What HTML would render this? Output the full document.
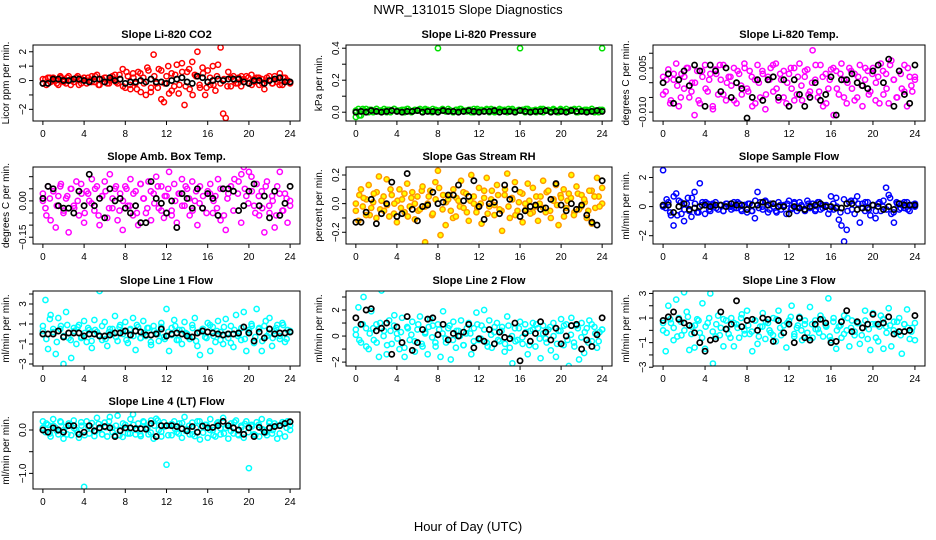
<!DOCTYPE html>
<html><head><meta charset="utf-8"><title>NWR_131015 Slope Diagnostics</title>
<style>
html,body{margin:0;padding:0;background:#fff;}
svg{display:block;font-family:"Liberation Sans",sans-serif;}
</style></head>
<body>
<svg id="chart" width="936" height="540" viewBox="0 0 936 540" xmlns="http://www.w3.org/2000/svg">
<rect x="0" y="0" width="936" height="540" fill="#fff"/>
<text x="468" y="14" font-size="13" text-anchor="middle">NWR_131015  Slope Diagnostics</text>
<text x="468" y="531" font-size="13" text-anchor="middle">Hour of Day (UTC)</text>
</svg>
<script>
const xTicks = [0,4,8,12,16,20,24];

const co2Color = [-0.2,0.1,0.2,-0.1,0.2,0.0,-0.3,0.2,0.1,-0.2,0.3,0.0,-0.1,0.2,-0.3,0.1,0.2,-0.2,0.0,0.3,-0.1,0.4,-0.3,0.1,0.2,-0.2,0.0,0.3,0.4,-0.2,0.1,0.8,
-0.5,0.3,-0.6,0.5,-0.2,0.6,-0.8,0.2,-1.0,0.7,-0.5,1.8,-0.2,0.8,-1.3,-1.5,0.3,-0.9,0.5,-0.4,1.1,-0.3,1.2,-1.7,0.6,-0.6,1.3,0.4,2.0,-0.5,0.9,-1.0,0.7,-0.3,1.0,-0.7,1.1,2.3,-2.3,-2.6,0.6,-0.4,
0.3,-0.2,0.2,-0.4,0.1,0.3,-0.2,0.4,-0.1,0.2,-0.3,0.1,-0.6,0.2,0.0,-0.2,0.3,-0.1,0.5,-0.3,0.2,0.0,-0.2];
const co2Color2 = [0.1,-0.3,0.2,0.0,-0.2,0.3,-0.1,0.2,-0.3,0.1,0.3,-0.2,0.0,0.2,-0.1,0.3,-0.3,0.1,0.2,-0.2,0.1,-0.1,0.4,-0.4,0.6,-0.3,0.2,-0.6,0.5,-0.2,0.9,-0.8,0.3,-0.5,0.7,-0.2,1.0,-0.7,0.4,-0.9,0.6,-0.4,0.8,-1.0,0.3,-0.3,0.5,-0.5,0.2,-0.3,0.3,-0.2,0.1,-0.4,0.2,0.0,-0.2,0.3,-0.1,0.2,-0.3,0.1,0.2,-0.2,0.0,0.3,-0.2,0.1,-0.3,0.2,0.0,-0.1];
const co2Black = [-0.2,-0.2,0.1,0.1,0.0,0.0,0.1,0.1,0.0,-0.1,0.1,0.1,-0.1,0.2,0.0,0.1,-0.2,-0.1,-0.1,0.0,-0.1,0.1,-0.1,-0.1,-0.2,0.0,0.1,0.2,-0.1,-0.2,0.3,0.2,-0.1,0.0,0.1,0.0,0.1,0.1,0.1,-0.1,-0.2,0.0,0.0,-0.2,0.0,0.1,0.2,-0.1,-0.1];

const presColor = [-0.03,0.02,-0.02,0.01,0.02,0.0,0.015,0.01,0.02,0.005,0.01,0.02,0.0,0.015,0.01,0.02,0.005,0.01,0.015,0.0,0.02,0.01,0.005,0.015,0.01,0.02,0.0,0.01,0.015,0.005,0.02,0.01,
0.4,0.01,0.015,0.005,0.02,0.01,0.0,0.015,0.01,0.02,0.005,0.01,0.015,0.0,0.02,0.01,0.005,0.015,0.01,0.02,0.0,0.01,0.015,0.005,0.02,0.01,0.015,0.0,0.01,0.02,0.005,0.01,
0.4,0.015,0.0,0.02,0.01,0.005,0.015,0.01,0.02,0.0,0.01,0.015,0.005,0.02,0.01,0.0,0.015,0.01,0.02,0.005,0.01,0.015,0.0,0.02,0.01,0.005,0.015,0.01,0.02,0.0,0.01,0.015,0.4];
const presColor2 = [0.01,-0.02,0.02,0.005,0.015,0.0,0.02,0.01,0.005,0.015,0.0,0.02,0.01,0.005,0.015,0.02,0.0,0.01,0.015,0.005,0.02,0.01,0.0,0.015,0.01,0.02,0.005,0.01,0.0,0.015,0.02,0.01,0.005,0.015,0.0,0.02,0.01,0.005,0.015,0.02,0.0,0.01,0.015,0.005,0.02,0.01,0.0,0.015,0.01,0.02,0.005,0.01,0.0,0.015,0.02,0.01,0.005,0.015,0.0,0.02,0.01,0.005,0.015,0.02,0.0,0.01,0.015,0.005,0.02,0.01,0.0,0.015];
const presBlack = [0.0,0.005,0.0,0.01,0.005,0.0,0.005,0.01,0.005,0.0,0.005,0.005,0.01,0.0,0.005,0.005,0.0,0.01,0.005,0.005,0.0,0.005,0.01,0.005,0.0,0.005,0.005,0.01,0.0,0.005,0.005,0.0,0.01,0.005,0.0,0.005,0.005,0.01,0.0,0.005,0.005,0.0,0.01,0.005,0.005,0.0,0.005,0.01,0.005];

const tempColor = [0.002,-0.003,0.0045,-0.006,0.001,0.0065,-0.008,0.003,-0.002,0.005,-0.005,0.0,-0.011,0.004,-0.007,0.002,0.006,-0.003,0.003,-0.009,0.0045,-0.004,0.001,0.006,-0.006,0.002,-0.001,0.005,-0.007,0.003,-0.004,0.0065,
-0.002,0.004,-0.008,0.001,0.006,-0.005,0.003,-0.009,0.002,0.005,-0.003,0.0065,-0.006,0.001,0.004,-0.007,0.003,-0.002,0.005,-0.004,0.0065,-0.006,0.002,0.0045,-0.003,0.011,0.001,-0.005,0.006,-0.008,0.003,-0.002,
0.0045,-0.011,0.004,-0.004,0.0065,0.001,-0.007,0.005,-0.002,0.003,-0.005,0.006,-0.008,0.001,0.004,-0.003,0.005,-0.006,0.002,0.0065,-0.004,0.003,-0.007,0.0075,0.001,-0.005,0.004,-0.002,0.006,-0.008,0.002,-0.003,0.001];
const tempColor2 = [-0.004,0.001,-0.007,0.003,-0.001,-0.005,0.002,0.005,-0.003,0.0,-0.006,0.004,-0.002,0.001,-0.008,0.003,0.006,-0.004,0.0,0.002,-0.006,0.004,-0.001,0.005,-0.003,0.002,-0.007,0.0,0.004,-0.004,0.001,0.006,-0.002,0.003,-0.005,0.0,0.005,-0.006,0.002,-0.001,0.004,-0.004,0.0,0.006,-0.003,0.002,-0.007,0.001,0.005,-0.002,0.003,-0.005,0.0,0.004,-0.006,0.002,-0.001,0.005,-0.004,0.003,0.0,-0.007,0.004,-0.002,0.006,0.001,-0.005,0.003,-0.003,0.005,-0.001,0.002];
const tempBlack = [0.0,0.003,-0.007,0.001,0.004,-0.001,0.006,0.004,-0.008,0.006,0.004,-0.003,0.005,-0.005,0.0,-0.002,-0.012,-0.005,0.001,-0.006,0.001,0.002,-0.005,0.001,-0.008,0.001,-0.004,-0.008,-0.005,0.0,-0.006,-0.004,0.002,-0.011,0.001,0.001,0.003,0.0,-0.001,-0.002,0.004,0.006,0.0,0.008,-0.008,0.004,-0.004,-0.007,0.006];

const ambColor = [0.0,-0.03,0.06,-0.08,0.04,-0.11,0.02,0.07,-0.05,0.01,-0.13,0.05,-0.02,0.08,-0.06,0.03,-0.09,0.04,0.0,0.09,-0.04,0.06,-0.1,0.02,0.08,-0.07,0.11,-0.03,0.05,-0.08,0.03,-0.12,
0.06,-0.02,0.09,-0.06,0.04,-0.1,0.07,0.01,-0.05,0.08,-0.08,0.03,0.1,-0.03,0.06,-0.07,0.02,0.12,-0.04,0.07,-0.09,0.03,0.09,-0.02,0.05,-0.06,0.08,0.0,-0.1,0.06,-0.03,-0.19,
0.04,0.07,-0.05,0.02,0.09,-0.08,0.05,-0.12,0.03,0.06,-0.04,-0.21,0.08,-0.09,0.14,0.02,0.12,0.1,-0.02,0.07,-0.06,0.04,-0.13,0.08,-0.05,0.02,-0.11,0.06,0.12,-0.04,0.03,-0.09,0.0];
const ambColor2 = [0.03,-0.06,0.01,0.04,-0.02,0.06,-0.04,0.02,0.05,-0.03,0.0,0.07,-0.05,0.03,-0.01,0.05,-0.06,0.02,0.04,-0.03,0.01,0.06,-0.04,0.0,0.05,-0.02,0.03,-0.05,0.07,0.01,-0.03,0.04,-0.01,0.06,-0.04,0.02,0.05,-0.06,0.0,0.03,-0.02,0.06,0.01,-0.04,0.04,-0.01,0.02,-0.05,0.03,0.0,-0.03,0.05,-0.06,0.01,0.06,0.09,0.03,0.11,0.05,-0.01,0.04,-0.05,0.02,-0.03,0.06,-0.02,0.0,-0.06,0.03,-0.04,0.01,-0.02];
const ambBlack = [0.01,0.06,0.05,-0.02,-0.03,-0.03,-0.05,0.04,-0.02,0.11,-0.02,0.01,-0.07,0.05,0.0,0.01,-0.03,-0.05,-0.02,-0.09,-0.09,0.08,0.01,-0.01,-0.05,0.0,-0.11,0.03,0.01,-0.03,0.05,-0.03,0.03,0.01,-0.06,0.05,0.05,0.04,-0.04,-0.02,0.04,0.07,-0.02,0.02,-0.07,0.04,-0.06,-0.01,0.06];

const rhColor = [0.0,-0.12,0.1,0.04,-0.08,0.13,-0.03,0.07,-0.1,0.19,0.02,-0.05,0.17,-0.09,0.06,0.0,-0.13,0.1,0.03,-0.06,0.14,-0.02,0.08,-0.11,0.05,-0.04,0.12,-0.27,0.0,0.09,-0.07,0.15,
0.23,-0.22,0.06,-0.15,0.03,-0.05,0.1,-0.09,0.02,0.16,-0.03,0.07,-0.12,0.2,0.0,-0.06,0.11,-0.14,0.04,0.18,-0.02,0.09,-0.08,0.13,-0.04,-0.19,0.06,0.21,-0.1,0.03,0.15,-0.05,
0.08,-0.13,0.0,0.14,-0.07,0.11,-0.02,-0.12,0.05,0.16,-0.06,0.09,-0.1,0.02,0.13,-0.15,0.04,0.1,-0.03,0.07,0.2,-0.08,0.12,-0.04,0.06,0.03,-0.1,0.09,-0.14,0.05,0.18,-0.02,0.11];
const rhColor2 = [-0.05,0.06,-0.02,0.03,-0.08,0.01,0.08,-0.04,0.05,-0.01,0.1,-0.07,0.02,-0.03,0.07,-0.09,0.04,0.0,-0.05,0.09,-0.02,0.05,-0.08,0.03,0.11,-0.04,0.01,0.06,-0.1,0.04,-0.02,0.08,-0.06,0.02,0.05,-0.03,0.0,0.09,-0.07,0.03,-0.01,0.06,-0.05,0.1,-0.02,0.04,-0.08,0.01,0.07,-0.04,0.02,-0.06,0.05,0.0,-0.03,0.08,-0.05,0.03,-0.01,0.06,-0.09,0.02,0.04,-0.06,0.07,-0.02,0.01,-0.05,0.09,-0.03,0.05,0.0];
const rhBlack = [-0.13,-0.13,-0.06,0.03,-0.14,-0.07,0.0,0.15,-0.09,-0.07,0.21,-0.04,-0.12,-0.02,-0.01,0.08,0.0,0.01,0.06,0.06,0.13,0.02,0.05,0.16,-0.02,-0.11,0.0,0.01,-0.07,0.13,0.03,0.1,-0.09,-0.05,-0.02,-0.01,-0.04,-0.03,0.03,0.14,-0.01,-0.05,0.0,-0.04,-0.01,-0.08,-0.13,-0.15,0.16];

const sampleColor = [2.5,-0.1,0.3,-0.6,-1.3,0.9,0.4,-0.5,-1.0,0.2,-0.3,0.6,1.0,-0.4,1.6,0.3,-0.5,0.2,-0.3,0.1,0.3,-0.2,0.1,-0.3,0.2,0.0,-0.2,0.3,-0.1,0.2,-0.3,0.1,
-0.4,0.2,-0.3,-0.8,1.0,0.3,-0.2,0.4,-0.4,0.2,0.0,-0.3,0.3,-0.2,0.1,-0.5,0.4,-0.1,0.2,-0.3,0.3,0.0,-0.2,0.4,-0.1,0.2,-0.3,0.3,-0.2,0.1,0.0,-0.5,
0.7,-0.2,0.6,-0.9,-1.3,-2.4,-1.6,0.3,-0.2,0.4,0.7,-1.1,0.2,-0.3,0.3,-0.6,0.1,-0.8,0.2,-0.3,0.4,1.3,0.8,-0.5,-1.1,0.3,-0.2,0.2,-0.1,0.3,-0.3,0.1,0.2];
const sampleColor2 = [0.0,0.5,-0.4,0.7,-0.6,0.3,-0.2,0.6,-0.7,0.2,-0.4,0.1,0.3,-0.2,0.2,-0.1,0.1,-0.3,0.2,0.0,-0.1,0.3,-0.2,0.1,0.2,-0.3,0.4,-0.1,0.0,0.3,-0.2,0.2,-0.4,0.1,0.0,0.2,-0.2,0.3,-0.1,0.1,-0.3,0.2,0.0,-0.2,0.3,-0.1,0.1,-0.2,0.2,0.0,-0.4,0.5,-0.3,0.4,-0.5,0.2,-0.1,0.3,-0.2,0.1,-0.3,0.3,0.0,-0.2,0.6,-0.4,0.2,-0.1,0.3,-0.2,0.1,0.0];
const sampleBlack = [0.1,0.1,-0.4,0.0,0.2,-0.2,-0.1,0.0,0.1,0.0,0.1,0.1,0.0,0.2,0.1,0.1,-0.2,0.1,0.1,0.3,0.1,0.2,0.0,0.0,-0.5,0.0,-0.1,-0.2,0.0,0.1,0.2,0.0,0.0,-0.1,-0.1,0.2,0.2,-0.2,-0.1,-0.1,0.1,0.0,-0.2,0.0,-0.2,0.2,0.1,0.1,0.1];

const line1Color = [0.3,3.4,-1.5,1.9,0.5,-2.0,1.6,0.8,-3.0,2.2,-0.4,-2.4,0.6,-1.0,0.9,-0.3,1.3,-0.8,0.4,-1.4,1.4,0.2,4.3,-0.6,1.2,-1.2,0.5,0.0,1.8,-0.7,0.9,0.3,
1.2,-0.9,0.5,1.6,-1.6,0.7,-0.4,1.3,-0.2,0.6,-1.1,0.8,0.1,-0.7,1.1,-0.3,2.5,-1.7,0.6,1.4,-0.6,0.4,-1.0,1.2,0.0,-0.5,0.9,1.6,-1.2,-2.1,0.5,-0.3,
1.1,-1.7,0.7,-0.8,1.3,0.2,-1.0,1.5,-0.4,0.8,-1.3,1.9,0.0,-0.6,2.2,-1.7,0.4,1.0,-0.9,2.5,0.6,-1.7,0.8,-0.2,1.6,-1.2,0.3,0.9,-0.5,1.1,-0.8,0.4,0.2];
const line1Color2 = [0.8,-0.5,1.5,0.2,-0.8,0.5,-0.2,0.9,-0.6,0.3,0.7,-0.4,0.1,0.6,-0.7,0.4,-0.1,0.8,-0.5,0.2,0.5,-0.3,0.7,0.0,-0.6,0.4,-0.2,0.9,-0.4,0.1,0.6,-0.8,0.3,0.0,0.7,-0.5,0.2,-0.1,0.8,-0.6,0.4,0.1,-0.3,0.6,-0.7,0.2,0.5,-0.4,0.9,-0.2,0.3,-0.6,0.7,0.0,-0.9,0.4,-0.2,0.6,-0.5,0.2,0.8,-0.3,0.5,-0.7,1.3,0.1,-0.4,0.6,-0.2,0.9,-0.5,0.3];
const line1Black = [0.0,0.0,0.0,0.3,-0.3,0.1,0.1,0.1,-0.2,0.0,0.0,-0.2,-0.2,-0.1,0.1,0.1,0.3,-0.1,0.3,0.2,-0.1,-0.1,0.0,0.5,-0.2,0.0,0.1,0.0,-0.2,-0.3,0.1,0.3,0.2,0.1,0.0,-0.1,0.0,0.0,0.1,0.7,0.1,-0.7,0.2,-0.4,0.5,0.0,0.1,0.1,0.2];

const line2Color = [0.1,2.2,-0.5,3.0,0.6,-1.0,1.9,-0.3,0.9,-1.6,3.5,0.4,-1.4,1.2,-0.6,1.6,0.2,-1.0,1.4,-1.6,0.7,-0.3,1.1,-1.2,0.5,1.5,-0.8,0.2,-1.4,1.3,0.8,-0.5,
0.9,-1.6,1.9,-0.2,0.6,-1.8,1.1,-0.9,0.4,1.2,-0.7,0.2,1.0,-1.4,0.6,1.8,-0.3,0.8,2.0,-0.5,1.2,-0.9,0.3,1.0,-0.4,0.7,-1.2,1.5,-0.9,-2.1,0.6,-0.3,
1.1,-0.6,0.9,-1.4,0.4,1.0,-0.8,0.6,-1.7,0.8,-0.2,0.5,-1.1,1.0,-1.6,0.4,1.3,-0.7,0.9,-2.3,1.4,-0.5,0.8,-1.8,1.0,-1.3,0.6,1.2,-0.4,0.7,-0.9,0.3,0.5];
const line2Color2 = [0.5,-0.3,0.9,-0.8,0.2,0.6,-0.5,1.0,0.0,-0.7,0.4,0.8,-0.2,0.3,-0.9,0.6,0.1,-0.4,0.9,-0.6,0.3,0.7,-0.1,-0.8,0.5,0.2,-0.5,0.8,-0.3,0.4,0.0,-0.7,0.6,0.2,-0.4,0.9,-0.2,0.5,-0.8,0.1,0.7,-0.3,0.4,-0.6,0.8,0.0,-0.4,0.6,-0.1,0.3,-0.7,0.5,0.9,-0.2,0.2,-0.5,0.7,0.0,-0.6,0.4,0.8,-0.3,0.1,-0.8,0.6,-0.1,0.3,-0.5,0.9,0.2,-0.4,0.5];
const line2Black = [1.4,0.9,2.0,2.1,0.4,0.6,1.0,-1.4,0.7,-0.5,1.5,-1.1,-0.5,0.5,1.3,1.4,0.1,0.9,-0.3,0.2,0.0,0.3,0.9,-0.9,-0.2,-0.4,0.5,-0.6,0.3,-0.1,-0.2,1.0,-1.9,0.2,-0.4,0.2,1.1,0.3,-0.3,0.6,-0.6,0.0,0.8,0.9,-1.0,-0.3,-0.8,0.1,1.4];

const line3Color = [0.0,-1.7,2.0,0.6,-0.8,2.5,1.0,-0.4,3.1,1.5,-1.6,0.3,-1.4,0.9,-0.2,2.2,-1.5,0.6,3.0,-2.7,-0.5,1.2,0.2,-1.3,0.8,-0.3,1.0,-1.3,0.5,-0.6,1.3,0.0,
1.6,-0.3,-1.7,0.8,-1.1,0.3,1.4,-0.7,0.6,-0.2,1.0,-0.9,1.6,-0.4,0.4,-1.4,0.8,2.0,-0.5,0.2,1.1,-0.8,0.5,-0.2,1.9,-0.6,0.8,0.1,1.2,-0.5,0.4,2.6,
-0.8,1.0,-1.5,0.3,-0.6,1.2,0.0,-1.3,0.8,-0.4,0.6,-1.1,0.2,1.6,-0.7,-1.6,1.4,0.5,-0.9,1.2,-1.5,0.3,1.8,-1.3,0.7,-0.2,1.0,-1.9,0.5,1.7,-0.7,0.2,-0.8];
const line3Color2 = [0.6,-0.2,0.9,0.2,-0.5,0.7,0.0,1.1,-0.3,0.4,0.8,-0.6,0.3,1.0,-0.1,0.5,-0.4,0.9,0.1,-0.6,0.6,0.2,1.0,-0.3,0.4,-0.1,0.8,-0.5,0.3,0.7,0.0,-0.4,0.9,0.2,-0.2,0.6,1.1,-0.3,0.4,0.0,0.8,-0.6,0.5,0.1,-0.2,0.9,0.3,-0.5,0.7,0.0,0.4,-0.3,1.0,0.2,-0.1,0.6,-0.4,0.8,0.1,0.5,-0.6,0.3,0.9,-0.2,0.4,0.0,0.7,-0.4,0.5,0.2,-0.1,0.6];
const line3Black = [0.8,1.1,1.5,0.9,0.6,0.4,-0.2,-1.0,-1.7,-0.8,-0.7,1.5,0.1,0.5,2.4,0.3,0.8,0.9,0.0,1.0,0.9,-0.9,0.8,-0.2,0.5,-1.0,1.0,-0.6,-0.8,0.5,0.9,0.6,-1.0,-0.9,0.7,1.6,-0.1,0.7,0.2,0.5,1.3,0.5,0.6,1.1,-0.3,-0.1,-0.1,0.0,1.2];

const line4Color = [0.2,-0.05,0.12,-0.15,0.25,0.05,-0.1,0.18,-0.2,0.08,0.15,-0.12,0.22,0.0,-0.18,0.1,-1.31,0.2,-0.08,0.16,-0.14,0.28,0.02,-0.1,0.17,-0.15,0.3,0.05,-0.12,0.33,0.0,-0.16,
0.12,-0.08,0.25,0.36,-0.1,0.15,-0.14,0.2,0.05,-0.1,0.22,-0.2,0.26,0.0,-0.15,0.18,-0.8,0.1,-0.12,0.2,-0.05,0.15,-0.18,0.3,0.02,-0.1,0.17,-0.14,0.2,-0.22,0.08,0.12,
-0.18,0.25,0.0,-0.15,0.18,-0.1,0.28,0.05,-0.2,0.15,-0.08,0.22,-0.12,0.1,-0.18,0.2,-0.88,0.12,-0.1,0.18,-0.15,0.25,0.0,-0.12,0.2,-0.08,0.15,-0.2,0.1,0.18,-0.15,0.2,0.0];
const line4Color2 = [0.05,0.15,-0.08,0.1,-0.02,0.2,0.0,-0.1,0.12,0.04,-0.06,0.18,-0.12,0.08,0.02,-0.04,0.14,-0.1,0.06,0.2,-0.05,0.1,-0.12,0.15,0.03,-0.08,0.12,0.0,-0.1,0.18,0.05,-0.06,0.1,0.22,-0.04,0.08,-0.12,0.14,0.02,-0.08,0.16,-0.02,0.1,-0.1,0.05,0.2,-0.06,0.12,0.0,-0.12,0.15,0.04,-0.08,0.1,-0.02,0.18,-0.1,0.06,0.14,-0.05,0.08,-0.12,0.12,0.02,-0.06,0.16,0.0,0.1,-0.08,0.14,0.05,0.1];
const line4Black = [0.0,-0.05,0.05,0.0,-0.05,0.1,0.1,-0.1,-0.05,0.1,-0.02,0.05,0.08,0.05,-0.15,-0.02,0.05,0.05,0.03,0.03,0.02,0.15,-0.15,0.1,0.1,0.1,0.08,0.03,-0.02,0.08,-0.05,0.09,0.05,0.06,0.1,0.2,0.1,0.05,0.0,-0.1,0.05,-0.15,0.06,-0.05,0.05,0.08,0.1,0.15,0.19];

const panelTitles = ["Slope Li-820 CO2","Slope Li-820 Pressure","Slope Li-820 Temp.","Slope Amb. Box Temp.","Slope Gas Stream RH","Slope Sample Flow","Slope Line 1 Flow","Slope Line 2 Flow","Slope Line 3 Flow","Slope Line 4 (LT) Flow"];
const panelYLabels = ["Licor ppm per min.","kPa per min.","degrees C per min.","degrees C per min.","percent per min.","ml/min per min.","ml/min per min.","ml/min per min.","ml/min per min.","ml/min per min."];
const yTicks = [[-2,-1,0,1,2],[0,0.1,0.2,0.3,0.4],[-0.010,-0.005,0,0.005,0.010],[-0.15,-0.10,-0.05,0,0.05,0.10],[-0.2,-0.1,0,0.1,0.2],[-2,-1,0,1,2],[-3,-2,-1,0,1,2,3,4],[-2,-1,0,1,2,3],[-3,-2,-1,0,1,2,3],[-1,-0.5,0]];
const yTickLabels = [["\u22122","","0","1","2"],["0.0","","0.2","","0.4"],["\u22120.010","","","0.005",""],["\u22120.15","","","0.00","",""],["\u22120.2","","0.0","","0.2"],["\u22122","","0","","2"],["\u22123","","\u22121","","1","","3",""],["\u22122","","0","","2",""],["\u22123","","\u22121","","1","","3"],["\u22121.0","","0.0"]];
const yDomains = [[-2.81,2.47],[-0.055,0.42],[-0.013,0.0128],[-0.178,0.14],[-0.282,0.256],[-2.57,2.72],[-3.2,4.3],[-2.3,3.46],[-2.9,3.2],[-1.36,0.415]];
const colorSeries = [co2Color,presColor,tempColor,ambColor,rhColor,sampleColor,line1Color,line2Color,line3Color,line4Color];
const colorSeries2 = [co2Color2,presColor2,tempColor2,ambColor2,rhColor2,sampleColor2,line1Color2,line2Color2,line3Color2,line4Color2];
const blackSeries = [co2Black,presBlack,tempBlack,ambBlack,rhBlack,sampleBlack,line1Black,line2Black,line3Black,line4Black];
const seriesColors = ["#ff0000","#00e000","#ff00ff","#ff00ff","#ff9a00","#0000ff","#00ffff","#00ffff","#00ffff","#00ffff"];

const NS = "http://www.w3.org/2000/svg";
const svg = document.getElementById("chart");
const colLeft = [33,346,653], colWidth = [267,266,272];
const rowTop = [45,167,291,412], rowHeight = [76,77,75,77];

function mk(tag, attrs, parent){
  const e = document.createElementNS(NS, tag);
  for (const k in attrs) e.setAttribute(k, attrs[k]);
  parent.appendChild(e);
  return e;
}

for (let p = 0; p < 10; p++){
  const L = colLeft[p % 3], W = colWidth[p % 3];
  const T = rowTop[Math.floor(p / 3)], H = rowHeight[Math.floor(p / 3)];
  const [y0, y1] = yDomains[p];
  const xs = h => L + (h + 0.96) / 25.92 * W;
  const ys = v => T + H - (v - y0) / (y1 - y0) * H;

  const g = mk("g", {}, svg);
  
  

  const title = mk("text", {x: L + W / 2, y: T - 7, "font-size": 11, "font-weight": "bold", "text-anchor": "middle"}, g);
  title.textContent = panelTitles[p];
  
  

  const yl = mk("text", {x: 0, y: 0, "font-size": 10, "text-anchor": "middle", transform: "translate(" + (L - 24) + "," + (T + H / 2) + ") rotate(-90)"}, g);
  yl.textContent = panelYLabels[p];
  
  

  const clipId = "clip" + p;
  const cp = mk("clipPath", {id: clipId}, g);
  mk("rect", {x: L, y: T, width: W, height: H}, cp);
  const pts = mk("g", {"clip-path": "url(#" + clipId + ")"}, g);
  
  

  [colorSeries2[p], colorSeries[p]].forEach(cs => {
    cs.forEach((v, i) => {
      const h = i * 24 / (cs.length - 1);
      const c = mk("circle", {cx: xs(h), cy: ys(v), r: 2.6, fill: p === 4 ? "#ffff00" : "none", stroke: seriesColors[p], "stroke-width": 1.5}, pts);
      
      
    });
  });
  const bs = blackSeries[p];
  bs.forEach((v, i) => {
    const h = i * 24 / (bs.length - 1);
    const c = mk("circle", {cx: xs(h), cy: ys(v), r: 2.6, fill: "none", stroke: "#000", "stroke-width": 1.7}, pts);
    
    
  });

  const box = mk("rect", {x: L, y: T, width: W, height: H, fill: "none", stroke: "#000", "stroke-width": 1}, g);
  
  

  const xa = mk("g", {}, g);
  
  
  mk("line", {x1: xs(xTicks[0]), x2: xs(xTicks[xTicks.length - 1]), y1: T + H, y2: T + H, stroke: "#000"}, xa);
  xTicks.forEach(t => {
    mk("line", {x1: xs(t), x2: xs(t), y1: T + H, y2: T + H + 4, stroke: "#000"}, xa);
    const tx = mk("text", {x: xs(t), y: T + H + 16, "font-size": 10, "text-anchor": "middle"}, xa);
    tx.textContent = t;
    
    
  });

  const ya = mk("g", {}, g);
  
  
  const tk = yTicks[p];
  mk("line", {x1: L, x2: L, y1: ys(tk[0]), y2: ys(tk[tk.length - 1]), stroke: "#000"}, ya);
  tk.forEach((t, i) => {
    mk("line", {x1: L - 4, x2: L, y1: ys(t), y2: ys(t), stroke: "#000"}, ya);
    const lab = yTickLabels[p][i];
    if (lab){
      const tx = mk("text", {x: 0, y: 0, "font-size": 10, "text-anchor": "middle", transform: "translate(" + (L - 7) + "," + ys(t) + ") rotate(-90)"}, ya);
      tx.textContent = lab;
      
      
    }
  });
}
</script>
</body></html>
